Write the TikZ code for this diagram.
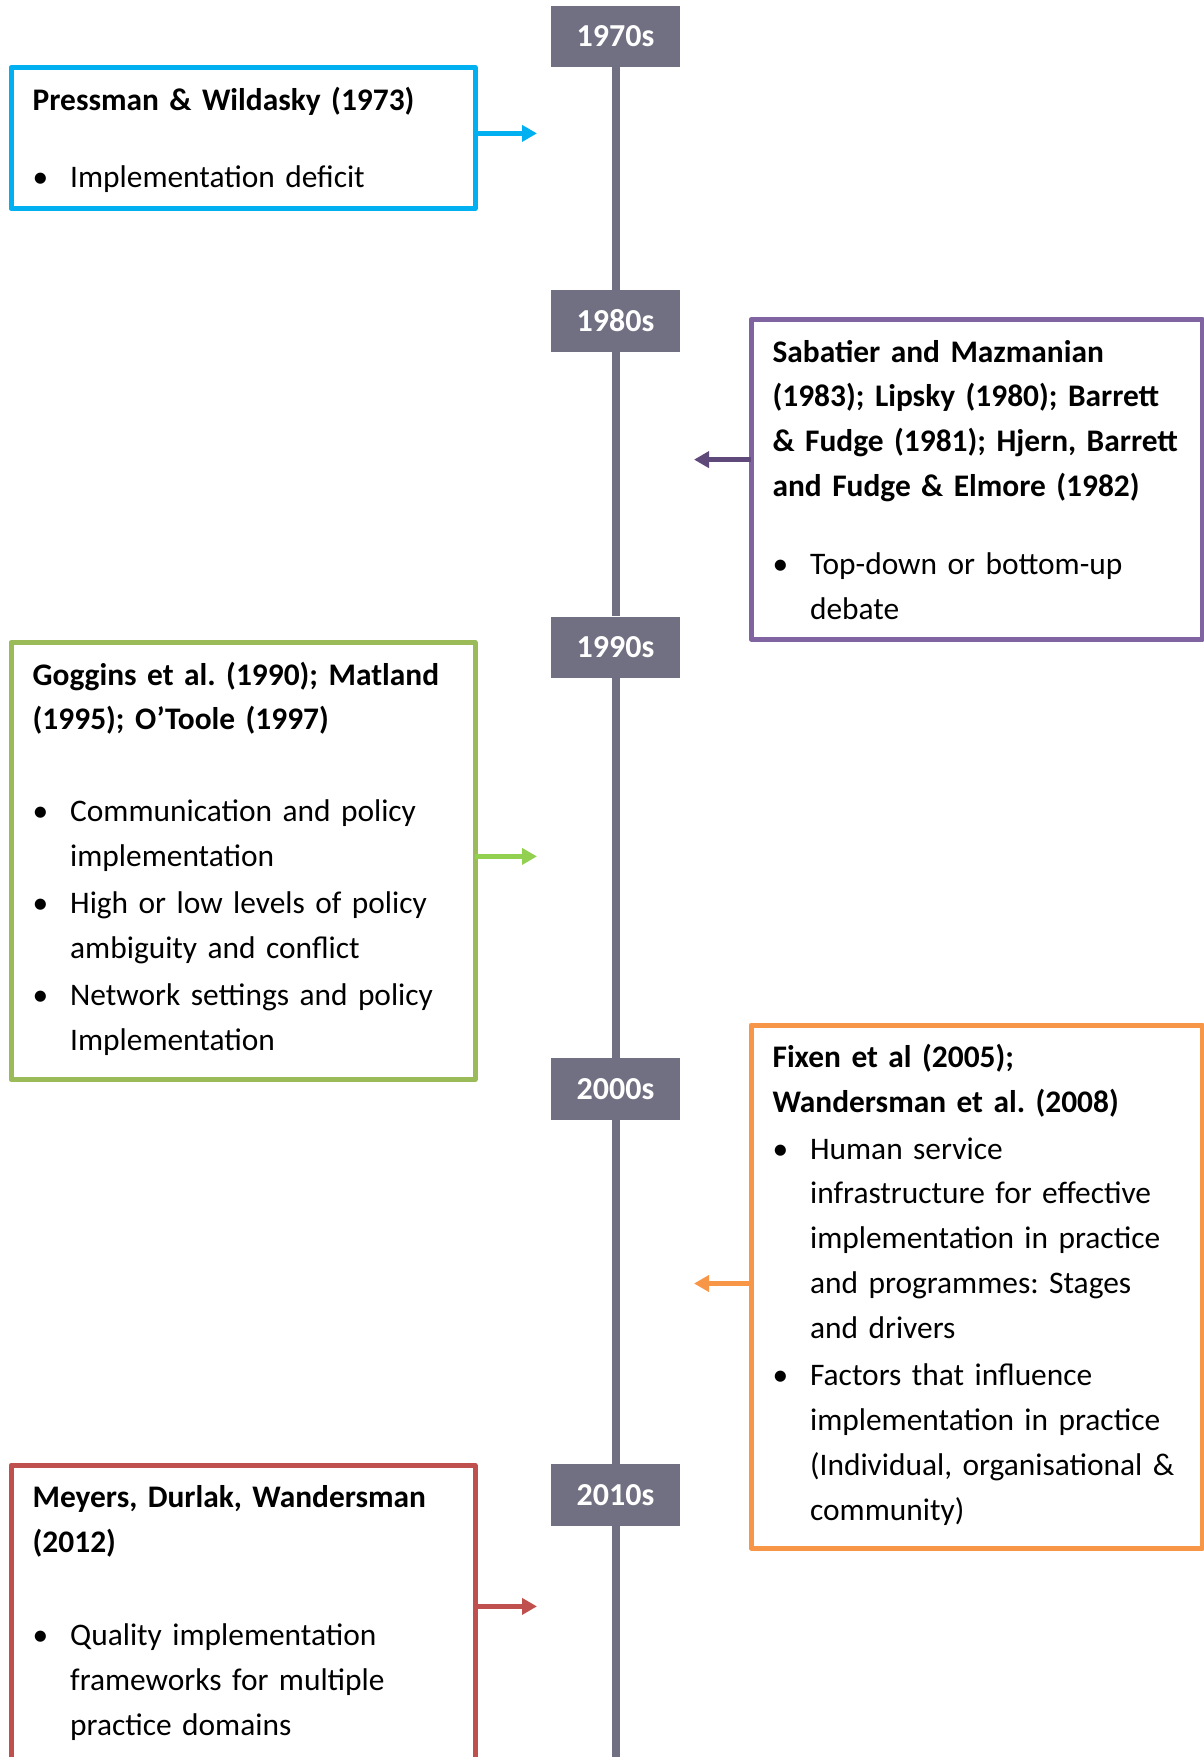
\documentclass[tikz,border=0pt]{standalone}
\usepackage{fontspec}
\setmainfont{Carlito}
\usetikzlibrary{arrows.meta}
\definecolor{decadegray}{HTML}{707082}
\definecolor{cblue}{HTML}{00B0F0}
\definecolor{cpurple}{HTML}{8064A2}
\definecolor{cpurpledark}{HTML}{5F497A}
\definecolor{cgreen}{HTML}{9BBB59}
\definecolor{cgreenlight}{HTML}{92D050}
\definecolor{corange}{HTML}{F79646}
\definecolor{cred}{HTML}{C0504D}
% text size, spacing and bullet items
\newcommand{\boxfont}{\fontsize{31.4}{44.84}\selectfont\frenchspacing}
\newcommand{\bul}{\par\vspace{2.2pt}\hangindent=37.5pt\hangafter=1\noindent\makebox[37.5pt][l]{\textbullet}}
\newcommand{\nl}{\newline}
\begin{document}
\begin{tikzpicture}[x=1pt, y=-1pt, >={Triangle[length=15pt,width=16pt]}, line join=round,
	decade/.style={fill=decadegray, text=white, inner sep=0pt, minimum width=129pt, minimum height=61.5pt, font=\fontsize{32}{36}\selectfont\bfseries},
	paperbox/.style={draw=#1, line width=5pt, inner sep=0pt, outer sep=0pt},
	link/.style={draw=#1, line width=4.5pt, ->},
	txt/.style={anchor=base west, inner sep=0pt, text width=440pt, align=left, font=\boxfont}]
	\useasboundingbox (0,0) rectangle (1204,1757);
	\fill[white] (0,0) rectangle (1204,1757);
	\def\tlx{615.5}
	% decades and timeline
	\foreach \yr/\yy in {1970/36.4, 1980/321, 1990/647.3, 2000/1089, 2010/1495}{
		\node[decade] (d\yr) at (\tlx,\yy) {\yr s};
	}
	\coordinate (tlend) at (\tlx,1757);
	\foreach \a/\b in {d1970/d1980, d1980/d1990, d1990/d2000, d2000/d2010, d2010/tlend}{
		\draw[decadegray, line width=8pt] (\a) -- (\b);
	}
	% boxes
	\node[paperbox=cblue, minimum width=464pt, minimum height=141pt] (pressman) at (243,138) {};
	\node[paperbox=cpurple, minimum width=451pt, minimum height=319.5pt] (sabatier) at (976.5,479.25) {};
	\node[paperbox=cgreen, minimum width=464pt, minimum height=437pt] (goggins) at (243,861) {};
	\node[paperbox=corange, minimum width=451pt, minimum height=523pt] (fixen) at (976.5,1286.5) {};
	\node[paperbox=cred, minimum width=464pt, minimum height=309.5pt] (meyers) at (243,1620) {};
	% arrows to the timeline
	\coordinate (pressmantip) at (537,133.4);
	\coordinate (sabatiertip) at (694,459.6);
	\coordinate (gogginstip) at (537,856.4);
	\coordinate (fixentip) at (694,1283.5);
	\coordinate (meyerstip) at (537,1606.4);
	\draw[link=cblue] (pressmantip -| pressman.east) -- (pressmantip);
	\draw[link=cpurpledark] (sabatiertip -| sabatier.west) -- (sabatiertip);
	\draw[link=cgreenlight] (gogginstip -| goggins.east) -- (gogginstip);
	\draw[link=corange] (fixentip -| fixen.west) -- (fixentip);
	\draw[link=cred] (meyerstip -| meyers.east) -- (meyerstip);
	% texts
	\node[txt] (pressmantxt) at (32.5,110) {\textbf{Pressman \& Wildasky (1973)}\par\vspace{30.5pt}%
		\bul Implementation deficit\par};
	\node[txt] (sabatiertxt) at (772.4,362.1) {\textbf{Sabatier and Mazmanian\nl(1983); Lipsky (1980); Barrett\nl\& Fudge (1981); Hjern, Barrett\nl and Fudge \& Elmore (1982)}\par\vspace{30.5pt}%
		\bul Top-down or bottom-up\nl debate\par};
	\node[txt] (gogginstxt) at (32.5,685) {\textbf{Goggins et al. (1990); Matland\nl(1995); O’Toole (1997)}\par\vspace{44.9pt}%
		\bul Communication and policy\nl implementation
		\bul High or low levels of policy\nl ambiguity and conflict
		\bul Network settings and policy\nl Implementation\par};
	\node[txt] (fixentxt) at (772.4,1067.2) {\textbf{Fixen et al (2005);\nl Wandersman et al. (2008)}%
		\bul Human service\nl infrastructure for effective\nl implementation in practice\nl and programmes: Stages\nl and drivers
		\bul Factors that influence\nl implementation in practice\nl(Individual, organisational \&\nl community)\par};
	\node[txt] (meyerstxt) at (32.5,1507.8) {\textbf{Meyers, Durlak, Wandersman\nl(2012)}\par\vspace{46pt}%
		\bul Quality implementation\nl frameworks for multiple\nl practice domains\par};
\end{tikzpicture}
\end{document}
